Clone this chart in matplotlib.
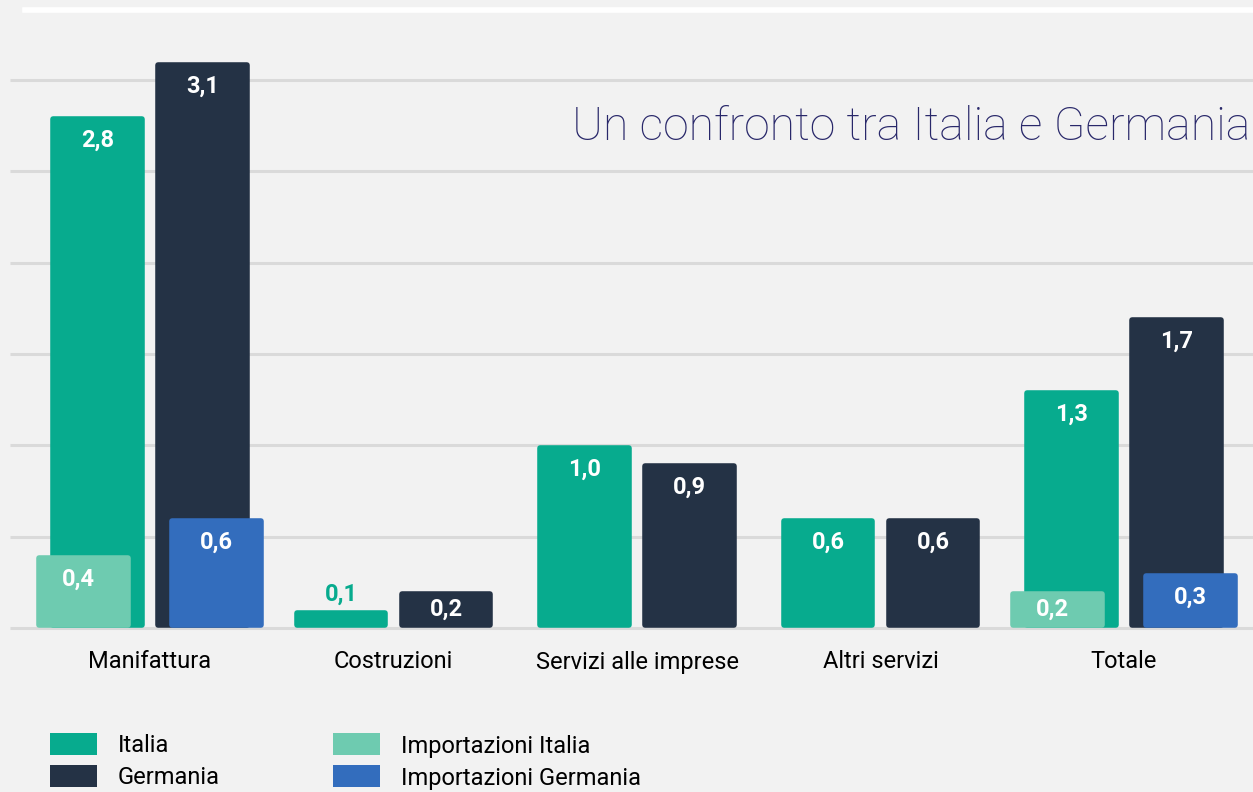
import numpy as np
import matplotlib.pyplot as plt
from matplotlib.lines import Line2D
from matplotlib.patches import Rectangle

categories = ["Manifattura", "Costruzioni", "Servizi alle imprese", "Altri servizi", "Totale"]
italia = [2.8, 0.1, 1.0, 0.6, 1.3]
germania = [3.1, 0.2, 0.9, 0.6, 1.7]
imp_italia = [0.4, None, None, None, 0.2]
imp_germania = [0.6, None, None, None, 0.3]

C_IT = "#07ab8e"
C_DE = "#243245"
C_IMP_IT = "#6ecbb0"
C_IMP_DE = "#336dbd"
BG = "#f2f2f2"

FONT = ["Roboto", "DejaVu Sans"]

W, H = 1253, 792
fig = plt.figure(figsize=(W / 100, H / 100), dpi=100, facecolor=BG)
ax = fig.add_axes([0, 0, 1, 1], facecolor=BG)

# pixel scale of the axes
xpx = 243.5   # px per category unit
ypx = 182.6   # px per value unit
x0px, base_px = 150, 628
ax.set_xlim(-x0px / xpx, (W - x0px) / xpx)
ax.set_ylim(-(H - base_px) / ypx, base_px / ypx)
ax.axis("off")

# gridlines
for g in np.arange(0, 3.01, 0.5):
    ax.plot([(10 - x0px) / xpx, (W - x0px) / xpx], [g, g],
            color="#dadada", lw=2.2, zorder=1, solid_capstyle="butt")

# top white line
fig.add_artist(Line2D([25 / W, 1], [1 - 10 / H, 1 - 10 / H], color="white", lw=4))

bw = 94 / xpx
off = 52.5 / xpx
imp_off = 14 / xpx
LW = 4.0
sx = LW * 100 / 72 / xpx
sy = LW * 100 / 72 / ypx


def rbar(x, h, color, z):
    ax.bar(x, h - sy, bw - sx, bottom=sy / 2, color=color, edgecolor=color,
           lw=LW, joinstyle="round", zorder=z)


def vlabel(x, h, color="white", above=False):
    if above:
        y = h + 15 / ypx
    else:
        y = h - min(24, h * ypx / 2) / ypx
    ax.text(x, y, f"{h:.1f}".replace(".", ","), ha="center", va="center",
            color=color, fontsize=17, fontweight="bold", family=FONT, zorder=10)


xs = np.arange(len(categories))
for i, x in enumerate(xs):
    rbar(x - off, italia[i], C_IT, 3)
    rbar(x + off, germania[i], C_DE, 3)
    vlabel(x - off, italia[i], C_IT if italia[i] < 0.15 else "white", above=italia[i] < 0.15)
    vlabel(x + off, germania[i])
    if imp_italia[i] is not None:
        rbar(x - off - imp_off, imp_italia[i], C_IMP_IT, 5)
        vlabel(x - off - imp_off - 5 / xpx, imp_italia[i])
    if imp_germania[i] is not None:
        rbar(x + off + imp_off, imp_germania[i], C_IMP_DE, 5)
        vlabel(x + off + imp_off, imp_germania[i])
    ax.text(x, -34 / ypx, categories[i], ha="center", va="center",
            fontsize=17, family=FONT, color="black")

# title
fig.text(1250 / W, 1 - 127 / H, "Un confronto tra Italia e Germania", ha="right", va="center",
         fontsize=33.5, fontweight="light", family=FONT, color="#29286a")

# legend
legend_items = [("Italia", C_IT, 50, 744), ("Germania", C_DE, 50, 776),
                ("Importazioni Italia", C_IMP_IT, 333, 744),
                ("Importazioni Germania", C_IMP_DE, 333, 776)]
for lab, col, lx, ly in legend_items:
    fig.add_artist(Rectangle((lx / W, 1 - (ly + 11) / H), 47 / W, 22 / H,
                             facecolor=col, edgecolor="none"))
    fig.text((lx + 68) / W, 1 - (ly + 2) / H, lab, ha="left", va="center",
             fontsize=17, family=FONT, color="black")

fig.savefig("out.png", dpi=100, facecolor=BG)
